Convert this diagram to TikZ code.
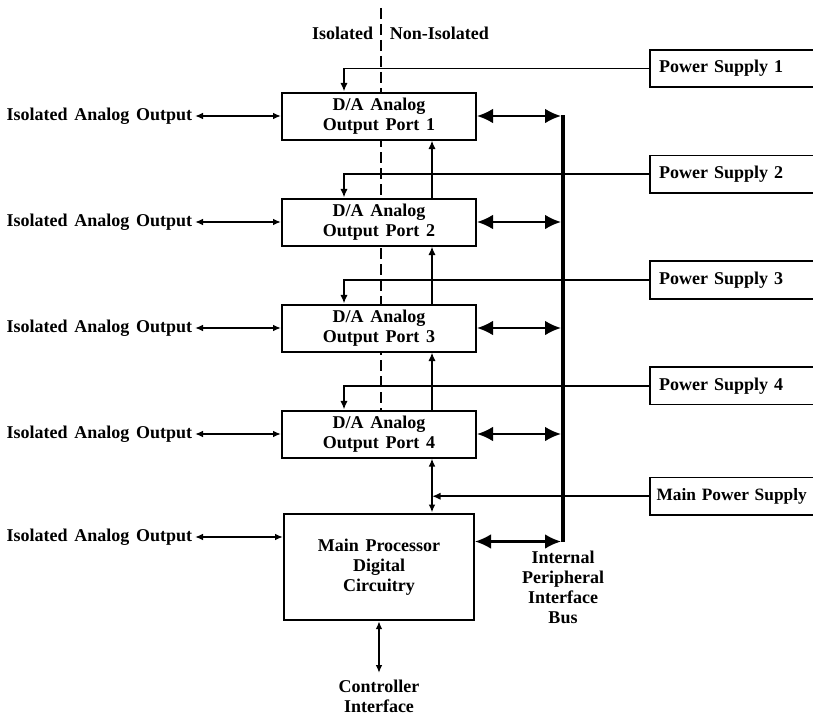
\documentclass[tikz,border=0pt]{standalone}
\usepackage{fontspec}
\setmainfont{Liberation Serif}[WordSpace=1.5]
\usepackage{tikz}
\usetikzlibrary{arrows.meta,positioning,calc}
\newcommand{\diagfont}{\fontsize{13.5pt}{15pt}\selectfont\bfseries}
\tikzset{
  dabox/.style={draw, line width=1.5pt, fill=white, align=center, minimum width=145.5pt, minimum height=35.25pt, inner sep=2pt, font=\diagfont},
  cpubox/.style={dabox, minimum width=142.5pt, minimum height=80pt},
  supplybox/.style={draw, line width=1.3pt, fill=white, align=left, text width=132pt, inner xsep=7pt, minimum height=28pt, font=\diagfont},
  plainlabel/.style={inner sep=2pt, align=center, font=\diagfont},
  thinarrow/.style={-{Latex[length=6.5pt,width=5.5pt]}, line width=1.2pt},
  thinboth/.style={{Latex[length=6pt,width=5pt]}-{Latex[length=6pt,width=5pt]}, line width=1.2pt},
  busarrow/.style={{Latex[length=12pt,width=11pt]}-{Latex[length=12pt,width=11pt]}, line width=1.6pt},
  busline/.style={line width=3pt},
  isoline/.style={line width=1.3pt, dash pattern=on 8pt off 4pt}
}

\begin{document}
\begin{tikzpicture}[x=0.75pt, y=-0.75pt, node distance=42.75pt]
\useasboundingbox (0,0) rectangle (813,717);
\clip (0,0) rectangle (813,717);

% isolation barrier
\coordinate (isotop) at (381,8);
\coordinate (isobot) at (381,420);
\draw[isoline] (isotop) -- (isobot);
\node[plainlabel, anchor=east] (isolbl) at (376,33) {Isolated};
\node[plainlabel, anchor=west] (nonisolbl) at (387,33) {Non-Isolated};

% output ports and processor
\node[dabox] (da1) at (379,116) {D/A Analog\\Output Port 1};
\node[dabox, below=of da1] (da2) {D/A Analog\\Output Port 2};
\node[dabox, below=of da2] (da3) {D/A Analog\\Output Port 3};
\node[dabox, below=of da3] (da4) {D/A Analog\\Output Port 4};
\node[cpubox, below=40.5pt of da4] (cpu) {Main Processor\\Digital\\Circuitry};

% supplies
\node[supplybox, anchor=west] (ps1) at (649,68.5) {Power Supply 1};
\node[supplybox, below=50pt of ps1] (ps2) {Power Supply 2};
\node[supplybox, below=50pt of ps2] (ps3) {Power Supply 3};
\node[supplybox, below=50pt of ps3] (ps4) {Power Supply 4};
\node[supplybox, inner xsep=5pt, text width=136pt, font=\fontsize{13pt}{15pt}\selectfont\bfseries, below=53.6pt of ps4.south west, anchor=north west] (mps) {Main Power Supply};

% bus
\coordinate (bustop) at (563,115);
\coordinate (busbot) at (563,542);
\draw[busline] (bustop) -- (busbot);
\node[plainlabel, below=4.5pt of busbot] (buslbl) {Internal\\Peripheral\\Interface\\Bus};

\coordinate (outcol) at (195,0);
\foreach \p in {1,...,4} {
  \node[plainlabel, anchor=east] (out\p) at (outcol |- da\p.west) {Isolated Analog Output};
  \draw[thinboth] (out\p.east) -- (da\p.west);
  \draw[busarrow, shorten >=1.5pt] (da\p.east) -- (da\p.east -| bustop);
  \draw[thinarrow] (ps\p.west) -| ([xshift=-26.25pt]da\p.north);
}
\foreach \q/\p in {1/2,2/3,3/4}
  \draw[thinarrow] ([xshift=39.75pt]da\p.north) -- ([xshift=39.75pt]da\q.south);

% processor row
\node[plainlabel, anchor=east] (out5) at (195,537) {Isolated Analog Output};
\draw[thinboth] (out5.east) -- (out5.east -| cpu.west);
\draw[busarrow, shorten >=1.5pt] ([yshift=19pt]cpu.east) -- ([yshift=19pt]cpu.east -| bustop);

\path ([xshift=39.75pt]da4.south) coordinate (da4tap);
\coordinate (mpjoin) at (da4tap |- mps.west);
\draw[thinboth] (da4tap) -- (da4tap |- cpu.north);
\draw[thinarrow] (mps.west) -- (mpjoin);

% controller
\node[plainlabel, anchor=north, inner ysep=5pt] (ctrl) at (379,673) {Controller\\Interface};
\draw[thinboth] (cpu.south) -- (ctrl.north);
\end{tikzpicture}
\end{document}
